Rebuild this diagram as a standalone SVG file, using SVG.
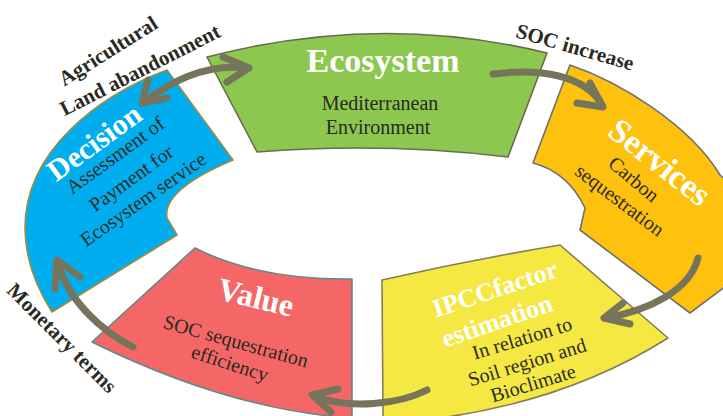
<svg xmlns="http://www.w3.org/2000/svg" width="723" height="416" viewBox="0 0 723 416">
<style>
.blk{stroke-width:1.6;stroke-linejoin:round}
.title{font-family:"Liberation Serif",serif;font-weight:bold;fill:#ffffff;text-anchor:middle;dominant-baseline:central}
.sub{font-family:"Liberation Serif",serif;fill:#2a2a22;font-size:20px;text-anchor:middle;dominant-baseline:central}
.lab{font-family:"Liberation Serif",serif;font-weight:bold;fill:#2a2a22;font-size:21px;text-anchor:middle;dominant-baseline:central}
.arr{fill:none;stroke:#77745c;stroke-width:7;stroke-linecap:round;stroke-linejoin:round}
</style>
<rect width="723" height="416" fill="#ffffff"/>

<g id="ecosystem">
<path class="blk" d="M207,57 Q380,12 547,53 L508,157 Q385,142 257,152 Z" fill="#8cc84f" stroke="#6a6a50"/>
<text class="title" x="383" y="60" font-size="34">Ecosystem</text>
<text class="sub" x="380" y="103" font-size="21">Mediterranean</text>
<text class="sub" x="378" y="127" font-size="21">Environment</text>
</g>

<g id="services">
<path class="blk" d="M570,65 C620,82 690,125 720,175 L726,180 L726,286 L690,313 L580,230 L585,208 Q568,172 533,163 Z" fill="#fec10e" stroke="#707070"/>
<text class="title" transform="translate(660,162) rotate(38)" font-size="34">Services</text>
<text class="sub" transform="translate(634,179) rotate(40)">Carbon</text>
<text class="sub" transform="translate(620,200) rotate(37)">sequestration</text>
</g>

<g id="ipcc">
<path class="blk" d="M382,280 Q470,260 560,245 L668,338 Q570,400 440,418 L383,418 Z" fill="#f5e843" stroke="#857c5c"/>
<text class="title" transform="translate(495,289) rotate(-18.5)" font-size="26">IPCCfactor</text>
<text class="title" transform="translate(497,321) rotate(-19)" font-size="26">estimation</text>
<text class="sub" transform="translate(522,338) rotate(-17)">In relation to</text>
<text class="sub" transform="translate(527,362) rotate(-17)">Soil region and</text>
<text class="sub" transform="translate(533,383) rotate(-17)">Bioclimate</text>
</g>

<g id="value">
<path class="blk" d="M195,248 Q258,280 352,279 L352,418 Q230,410 92,342 Z" fill="#f46766" stroke="#5e8a8a"/>
<text class="title" transform="translate(256,297) rotate(13.5)" font-size="32">Value</text>
<text class="sub" transform="translate(236,341) rotate(15.5)">SOC sequestration</text>
<text class="sub" transform="translate(230,363) rotate(18)">efficiency</text>
</g>

<g id="decision">
<path class="blk" d="M167,70 C100,95 25,150 25,228 C25,262 38,290 52,312 L177,235 L167,218 Q162,190 233,160 Z" fill="#00aeef" stroke="#a08c3c"/>
<text class="title" transform="translate(94,142) rotate(-36)" font-size="30">Decision</text>
<text class="sub" transform="translate(115,155) rotate(-36)" font-size="21">Assessment of</text>
<text class="sub" transform="translate(131,178) rotate(-36)" font-size="21">Payment for</text>
<text class="sub" transform="translate(143,199) rotate(-35)" font-size="21">Ecosystem service</text>
</g>

<g id="labels">
<text class="lab" transform="translate(108,51) rotate(-32)">Agricultural</text>
<text class="lab" transform="translate(140,70) rotate(-27)">Land abandonment</text>
<text class="lab" transform="translate(575,47) rotate(16)">SOC increase</text>
<text class="lab" transform="translate(62,338) rotate(45)">Monetary terms</text>
</g>

<g id="connectors">
<path class="arr" d="M247,68 Q195,62 143,103"/>
<path class="arr" d="M223,57 L249,68 L227,82"/>
<path class="arr" d="M148,80 L142,103 L167,98"/>
<path class="arr" d="M493,74 C540,68 585,75 602,105"/>
<path class="arr" d="M590,83 L603,107 L577,103"/>
<path class="arr" d="M698,258 C690,290 650,310 606,318"/>
<path class="arr" d="M623,303 L604,318 L630,324"/>
<path class="arr" d="M427,390 C400,404 350,410 314,396"/>
<path class="arr" d="M338,389 L312,395 L331,412"/>
<path class="arr" d="M133,347 C100,330 68,300 58,263"/>
<path class="arr" d="M55,289 L57,260 L80,277"/>
</g>
</svg>
